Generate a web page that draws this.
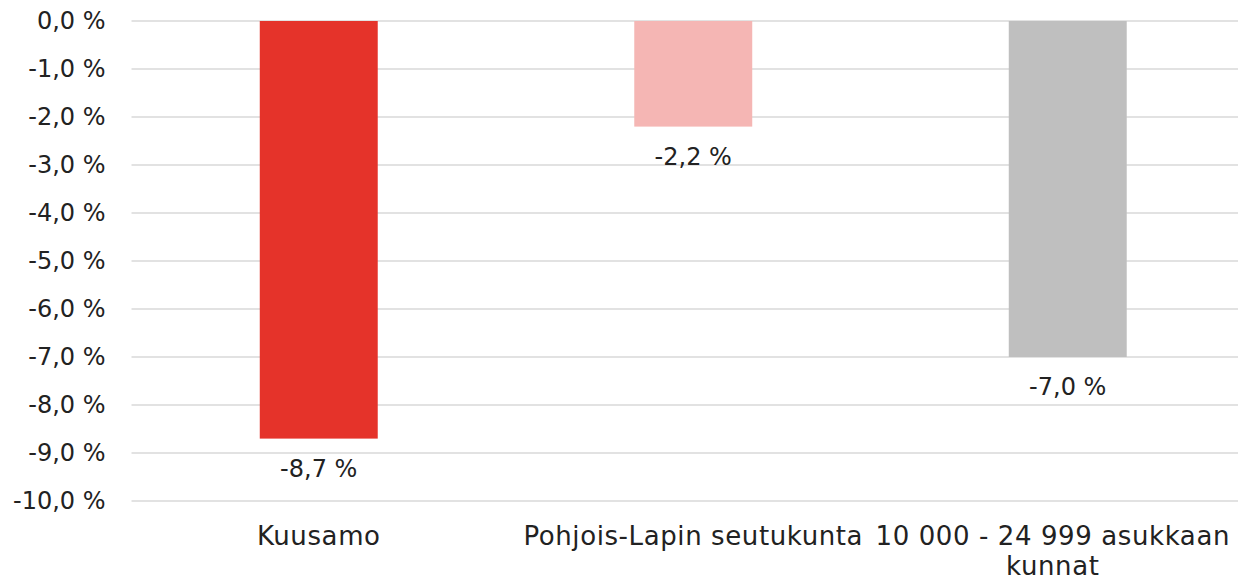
<!DOCTYPE html>
<html>
<head>
<meta charset="utf-8">
<script src="https://cdn.jsdelivr.net/npm/d3@7"></script>
<style>
   body { margin: 0; background: #fff; }
   svg { display: block; font-family: 'DejaVu Sans', sans-serif; }
</style>
</head>
<body>
<div id="chart"></div>
<script>
const categories = ['Kuusamo', 'Pohjois-Lapin seutukunta', '10 000 - 24 999 asukkaan kunnat'];
const values = [-8.7, -2.2, -7.0];
const barColors = ['#e5332a', '#f5b6b4', '#bfbfbf'];
const yTicks = [0, -1, -2, -3, -4, -5, -6, -7, -8, -9, -10];

const width = 1238;
const height = 579;
const margin = { top: 21, right: -17, bottom: 78, left: 131.5 };
const numSize = 24;
const catSize = 26;
const textColor = '#222';

const fmt = (v) => d3.format('.1f')(v).replace('−', '-').replace('.', ',') + ' %';

const svg = d3
   .select('#chart')
   .append('svg')
   .attr('width', width)
   .attr('height', height);

const x = d3
   .scaleBand()
   .domain(categories)
   .range([margin.left, width - margin.right])
   .paddingInner(0.685)
   .paddingOuter(0.3425);

const y = d3
   .scaleLinear()
   .domain([0, -10])
   .range([margin.top, height - margin.bottom]);

// gridlines
svg.append('g')
   .selectAll('line')
   .data(yTicks)
   .join('line')
   .attr('x1', margin.left)
   .attr('x2', width)
   .attr('y1', (d) => y(d))
   .attr('y2', (d) => y(d))
   .attr('stroke', '#d9d9d9')
   .attr('stroke-width', 1.5);

// y axis labels
const yAxis = d3
   .axisLeft(y)
   .tickValues(yTicks)
   .tickFormat(fmt)
   .tickSize(0)
   .tickPadding(26);
svg.append('g')
   .attr('transform', `translate(${margin.left},0)`)
   .call(yAxis)
   .call((g) => g.select('.domain').remove())
   .selectAll('text')
   .attr('font-size', numSize)
   .attr('font-family', "'DejaVu Sans', sans-serif")
   .attr('fill', textColor);

// bars
svg.append('g')
   .selectAll('rect')
   .data(categories)
   .join('rect')
   .attr('x', (d) => x(d))
   .attr('y', y(0))
   .attr('width', x.bandwidth())
   .attr('height', (d, i) => y(values[i]) - y(0))
   .attr('fill', (d, i) => barColors[i]);

// value labels
svg.append('g')
   .selectAll('text')
   .data(categories)
   .join('text')
   .attr('x', (d) => x(d) + x.bandwidth() / 2)
   .attr('y', (d, i) => y(values[i]) + 38)
   .attr('text-anchor', 'middle')
   .attr('font-size', numSize)
   .attr('fill', textColor)
   .text((d, i) => fmt(values[i]));

// category labels, wrapped to band step
const step = x.step();
const catG = svg.append('g');
categories.forEach((c) => {
   const cx = x(c) + x.bandwidth() / 2;
   const t = catG
      .append('text')
      .attr('y', 545)
      .attr('text-anchor', 'middle')
      .attr('font-size', catSize)
      .attr('letter-spacing', 0.6)
      .attr('fill', textColor);
   let line = [];
   let tspan = t.append('tspan').attr('x', cx).attr('dy', 0);
   c.split(' ').forEach((w) => {
      line.push(w);
      tspan.text(line.join(' '));
      if (tspan.node().getComputedTextLength() > step - 20 && line.length > 1) {
         line.pop();
         tspan.text(line.join(' '));
         line = [w];
         tspan = t.append('tspan').attr('x', cx).attr('dy', 30).text(w);
      }
   });
   // keep the label inside the window
   const box = t.node().getBBox();
   const over = box.x + box.width - (width - 8);
   if (over > 0) t.selectAll('tspan').attr('x', cx - over);
});
</script>
</body>
</html>
